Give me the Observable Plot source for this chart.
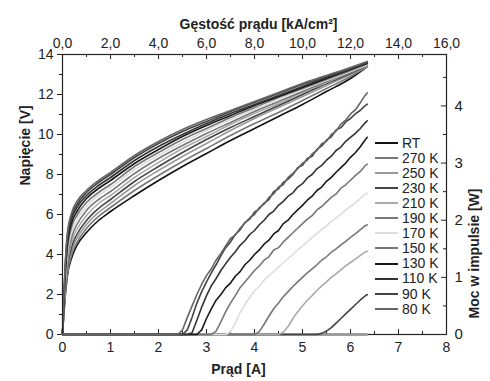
<!DOCTYPE html>
<html><head><meta charset="utf-8">
<script src="https://cdn.jsdelivr.net/npm/d3@7"></script>
<script src="https://cdn.jsdelivr.net/npm/@observablehq/plot@0.6"></script>
<style>
body{margin:0;background:#fff;font-family:"Liberation Sans",Arial,sans-serif}
#wrap{position:relative;width:490px;height:381px;overflow:hidden}
#wrap svg{position:absolute;left:0;top:0}
.leg{position:absolute;left:375px;font-size:14px;color:#222;line-height:15px;height:15px;white-space:nowrap}
.leg i{display:inline-block;width:23px;height:2px;vertical-align:middle;margin-right:4px;position:relative;top:-1px}
</style></head><body><div id="wrap"></div>
<script>
const series = ["RT","270 K","250 K","230 K","210 K","190 K","170 K","150 K","130 K","110 K","90 K","80 K"];
const colors = ["#111","#777","#999","#444","#aaa","#777","#ddd","#777","#1a1a1a","#333","#444","#666"];

// Voltage vs current
const vI = [0,0.05,0.1,0.2,0.3,0.5,0.75,1,1.5,2,2.5,3,3.5,4,4.5,5,5.5,6,6.35];
const vRT   = [0,1.7,2.9,3.9,4.45,5.1,5.7,6.15,6.95,7.7,8.4,9.05,9.7,10.3,10.9,11.5,12.15,12.8,13.4];
const v270  = [0,1.8,3.0,4.05,4.6,5.3,5.9,6.35,7.2,7.95,8.65,9.3,9.95,10.55,11.1,11.7,12.3,12.9,13.4];
const v250  = [0,1.9,3.15,4.25,4.8,5.5,6.1,6.55,7.45,8.2,8.9,9.55,10.2,10.8,11.35,11.9,12.45,13.0,13.4];
const v230  = [0,2.0,3.3,4.45,5.0,5.7,6.3,6.75,7.65,8.4,9.1,9.75,10.35,10.9,11.45,12.0,12.55,13.05,13.45];
const v210  = [0,2.15,3.5,4.7,5.25,5.95,6.55,6.95,7.85,8.6,9.3,9.9,10.5,11.05,11.55,12.1,12.6,13.1,13.45];
const v190  = [0,2.3,3.7,4.95,5.5,6.2,6.75,7.15,8.05,8.8,9.45,10.05,10.6,11.15,11.65,12.15,12.65,13.1,13.5];
const v170  = [0,2.45,3.95,5.2,5.75,6.4,6.95,7.35,8.25,8.95,9.6,10.2,10.75,11.25,11.75,12.25,12.7,13.15,13.5];
const v150  = [0,2.6,4.2,5.45,5.95,6.6,7.1,7.5,8.4,9.1,9.75,10.3,10.85,11.35,11.85,12.3,12.75,13.2,13.55];
const v130  = [0,2.75,4.45,5.65,6.15,6.8,7.3,7.7,8.55,9.25,9.9,10.45,10.95,11.45,11.9,12.35,12.8,13.25,13.55];
const v110  = [0,2.9,4.7,5.85,6.35,6.95,7.45,7.85,8.7,9.4,10.0,10.55,11.05,11.5,11.95,12.4,12.85,13.25,13.6];
const v90   = [0,3.05,4.9,6.0,6.5,7.1,7.6,8.0,8.85,9.55,10.15,10.65,11.15,11.6,12.05,12.5,12.9,13.3,13.6];
const v80   = [0,3.2,5.05,6.15,6.65,7.2,7.7,8.1,8.95,9.65,10.25,10.75,11.2,11.65,12.1,12.55,12.95,13.35,13.65];
const vCurves = [vRT,v270,v250,v230,v210,v190,v170,v150,v130,v110,v90,v80];

// Pulse power vs current
const pI = [2.4,2.5,2.6,2.7,2.8,2.9,3.0,3.1,3.2,3.3,3.4,3.5,3.6,3.7,3.8,3.9,4.0,4.1,4.2,4.3,4.4,4.5,4.6,4.7,4.8,4.9,5.0,5.1,5.2,5.3,5.4,5.5,5.6,5.7,5.8,5.9,6.0,6.1,6.2,6.3,6.35];
const pFlat = [0,0,0,0,0,0,0,0,0,0,0,0,0,0,0,0,0,0,0,0,0,0,0,0,0,0,0,0,0,0,0,0,0,0,0,0,0,0,0,0,0];
const p230 = [0,0,0,0,0,0,0,0,0,0,0,0,0,0,0,0,0,0,0,0,0,0,0,0,0,0,0,0,0,0,0.02,0.06,0.12,0.2,0.28,0.36,0.44,0.52,0.6,0.67,0.70];
const p210 = [0,0,0,0,0,0,0,0,0,0,0,0,0,0,0,0,0,0,0,0,0,0,0.04,0.14,0.28,0.4,0.5,0.6,0.68,0.77,0.85,0.92,1.0,1.06,1.13,1.2,1.26,1.32,1.38,1.44,1.46];
const p190 = [0,0,0,0,0,0,0,0,0,0,0,0,0,0,0,0,0,0.05,0.18,0.32,0.45,0.55,0.66,0.75,0.84,0.92,1.0,1.08,1.15,1.22,1.3,1.36,1.44,1.5,1.57,1.63,1.7,1.76,1.83,1.9,1.92];
const p170 = [0,0,0,0,0,0,0,0,0,0,0,0.05,0.2,0.38,0.52,0.65,0.76,0.85,0.95,1.03,1.1,1.18,1.26,1.33,1.4,1.48,1.55,1.62,1.7,1.76,1.84,1.9,1.98,2.04,2.1,2.18,2.24,2.3,2.38,2.45,2.47];
const p150 = [0,0,0,0,0,0,0,0,0.06,0.22,0.4,0.55,0.68,0.82,0.92,1.02,1.12,1.2,1.3,1.36,1.48,1.52,1.62,1.7,1.78,1.86,1.94,2.02,2.08,2.18,2.24,2.32,2.4,2.46,2.56,2.62,2.7,2.78,2.85,2.95,2.98];
const p130 = [0,0,0,0,0,0.08,0.28,0.45,0.6,0.7,0.82,0.9,1.02,1.1,1.22,1.3,1.4,1.48,1.58,1.65,1.76,1.82,1.94,2.0,2.1,2.18,2.26,2.35,2.42,2.52,2.58,2.68,2.75,2.84,2.92,3.0,3.1,3.18,3.28,3.4,3.45];
const p110 = [0,0,0,0.03,0.25,0.48,0.68,0.85,0.98,1.12,1.24,1.35,1.45,1.56,1.64,1.75,1.82,1.92,2.0,2.1,2.16,2.26,2.33,2.42,2.48,2.58,2.64,2.74,2.8,2.9,2.96,3.05,3.12,3.22,3.28,3.38,3.45,3.52,3.6,3.7,3.74];
const p90  = [0,0,0.08,0.3,0.55,0.75,0.92,1.08,1.22,1.38,1.52,1.62,1.75,1.83,1.96,2.02,2.14,2.2,2.3,2.36,2.5,2.55,2.66,2.72,2.8,2.92,2.96,3.08,3.12,3.24,3.3,3.4,3.46,3.58,3.62,3.72,3.78,3.86,3.92,4.0,4.03];
const p80  = [0,0.08,0.3,0.5,0.7,0.88,1.03,1.15,1.3,1.42,1.55,1.68,1.74,1.86,1.95,2.04,2.1,2.22,2.28,2.4,2.46,2.58,2.62,2.75,2.82,2.9,3.0,3.05,3.16,3.22,3.34,3.38,3.5,3.56,3.68,3.75,3.86,3.93,4.05,4.18,4.23];
const pCurves = [pFlat,pFlat,pFlat,p230,p210,p190,p170,p150,p130,p110,p90,p80];

// Axis ticks
const xTicks = [0,1,2,3,4,5,6,7,8];
const xMinor = [0.5,1.5,2.5,3.5,4.5,5.5,6.5,7.5];
const xLabels = ["0","1","2","3","4","5","6","7","8"];
const topLabels = ["0,0","2,0","4,0","6,0","8,0","10,0","12,0","14,0","16,0"];
const yTicks = [0,2,4,6,8,10,12,14];
const yMinor = [1,3,5,7,9,11,13];
const pTicks = [0,1,2,3,4];
const pMinor = [0.5,1.5,2.5,3.5,4.5];

const W = 490, H = 381, mL = 62, mR = 44, mT = 54, mB = 47;
const fw = W - mL - mR, fh = H - mT - mB;
const font = {fontFamily: "'Liberation Sans', Arial, sans-serif", background: "transparent", overflow: "visible"};
const colorScale = {domain: series, range: colors};

const vData = series.flatMap((s, k) => vI.map((i, j) => ({s, i, v: vCurves[k][j]})));
const pData = series.flatMap((s, k) => [{s, i: 0, p: 0}, ...pI.map((i, j) => ({s, i, p: pCurves[k][j]}))]);

const txt = {fontSize: 14, fill: "#222"};

const plotV = Plot.plot({
  width: W, height: H, marginLeft: mL, marginRight: mR, marginTop: mT, marginBottom: mB,
  style: font,
  x: {domain: [0, 8], axis: null},
  y: {domain: [0, 14], axis: null},
  color: colorScale,
  marks: [
    Plot.line(vData, {x: "i", y: "v", z: "s", stroke: "s", strokeWidth: 1.6, curve: "monotone-x"}),
    Plot.frame({stroke: "#222", strokeWidth: 1.2}),
    Plot.tickX(xTicks, {x: d => d, insetTop: fh - 5, stroke: "#222"}),
    Plot.tickX(xMinor, {x: d => d, insetTop: fh - 3, stroke: "#222"}),
    Plot.tickX(xTicks, {x: d => d, insetBottom: fh - 5, stroke: "#222"}),
    Plot.tickX(xMinor, {x: d => d, insetBottom: fh - 3, stroke: "#222"}),
    Plot.tickY(yTicks, {y: d => d, insetRight: fw - 5, dx: -5, stroke: "#222"}),
    Plot.tickY(yMinor, {y: d => d, insetRight: fw - 3, dx: -3, stroke: "#222"}),
    Plot.text(xTicks, {x: d => d, text: (d, i) => xLabels[i], frameAnchor: "bottom", dy: 17, ...txt}),
    Plot.text(xTicks, {x: d => d, text: (d, i) => topLabels[i], frameAnchor: "top", dy: -16, ...txt}),
    Plot.text(yTicks, {y: d => d, text: d => String(d), frameAnchor: "left", dx: -9, textAnchor: "end", ...txt}),
    Plot.text(["Gęstość prądu [kA/cm²]"], {text: d => d, frameAnchor: "top", dx: 4, dy: -35, fontWeight: "bold", ...txt}),
    Plot.text(["Prąd [A]"], {text: d => d, frameAnchor: "bottom", dx: -16, dy: 39, fontWeight: "bold", ...txt}),
    Plot.text(["Napięcie [V]"], {text: d => d, frameAnchor: "left", dx: -37, dy: -9, rotate: -90, fontWeight: "bold", ...txt})
  ]
});

const plotP = Plot.plot({
  width: W, height: H, marginLeft: mL, marginRight: mR, marginTop: mT, marginBottom: mB,
  style: font,
  x: {domain: [0, 8], axis: null},
  y: {domain: [0, 4.9], axis: null},
  color: colorScale,
  marks: [
    Plot.line(pData, {x: "i", y: "p", z: "s", stroke: "s", strokeWidth: 1.6}),
    Plot.tickY(pTicks, {y: d => d, insetLeft: fw - 5, stroke: "#222"}),
    Plot.tickY(pMinor, {y: d => d, insetLeft: fw - 3, stroke: "#222"}),
    Plot.text(pTicks, {y: d => d, text: d => String(d), frameAnchor: "right", dx: 8, textAnchor: "start", ...txt, fontSize: 15}),
    Plot.text(["Moc w impulsie [W]"], {text: d => d, frameAnchor: "right", dx: 28, dy: -6, rotate: -90, fontWeight: "bold", ...txt})
  ]
});

const wrap = document.getElementById("wrap");
wrap.appendChild(plotV);
wrap.appendChild(plotP);

series.forEach((s, k) => {
  const d = document.createElement("div");
  d.className = "leg";
  d.style.top = (143 + 15.1 * k - 7.5) + "px";
  d.innerHTML = `<i style="background:${colors[k]}"></i>${s}`;
  wrap.appendChild(d);
});
</script></body></html>
